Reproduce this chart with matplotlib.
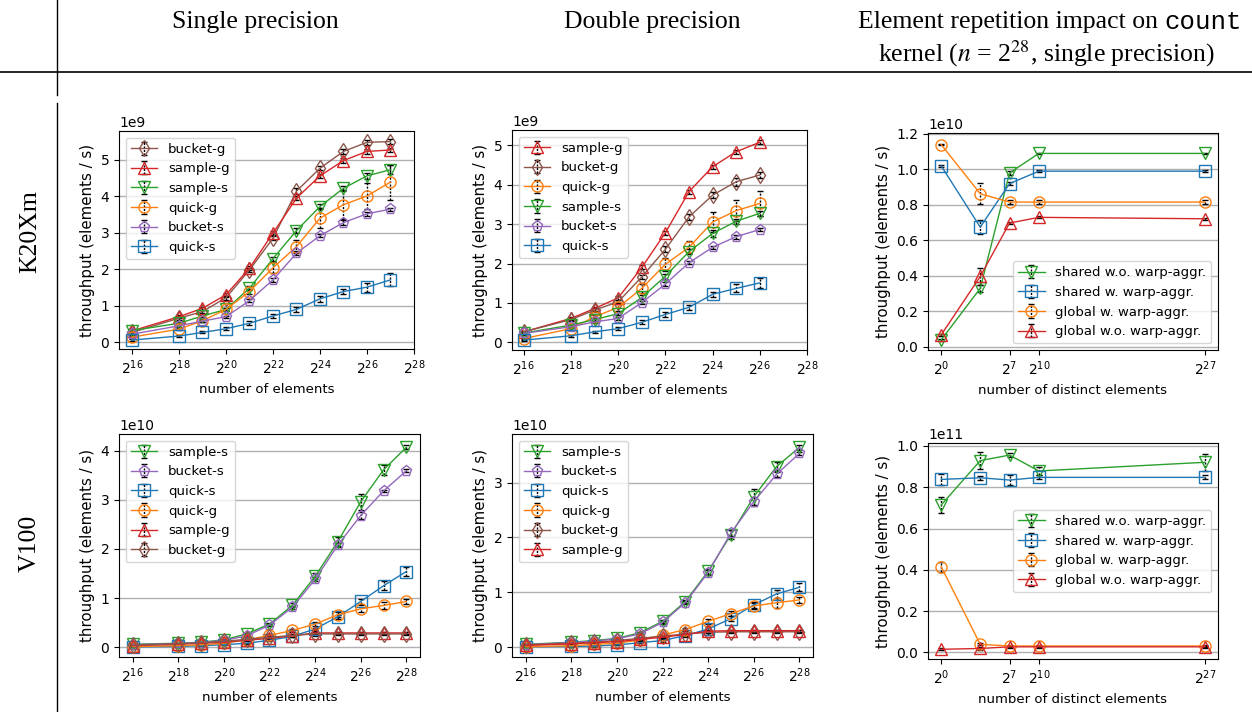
import numpy as np
import matplotlib
matplotlib.use("Agg")
import matplotlib.pyplot as plt
from matplotlib.ticker import FixedLocator, LogFormatterSciNotation, NullLocator
from matplotlib.lines import Line2D

# ---------------- data ----------------
exp_k20_single = [16, 18, 19, 20, 21, 22, 23, 24, 25, 26, 27]
exp_k20_double = [16, 18, 19, 20, 21, 22, 23, 24, 25, 26]
exp_v100 = [16, 18, 19, 20, 21, 22, 23, 24, 25, 26, 27, 28]
exp_distinct = [0, 4, 7, 10, 27]

# K20Xm single precision (x 1e9)
k20s_names = ["bucket-g", "sample-g", "sample-s", "quick-g", "bucket-s", "quick-s"]
k20s_vals = {
    "bucket-g": [0.27, 0.66, 0.84, 1.22, 1.98, 2.85, 4.14, 4.77, 5.23, 5.48, 5.50],
    "sample-g": [0.31, 0.70, 0.93, 1.30, 2.03, 2.99, 3.95, 4.56, 4.98, 5.23, 5.27],
    "sample-s": [0.32, 0.52, 0.72, 0.90, 1.48, 2.29, 3.06, 3.72, 4.22, 4.56, 4.73],
    "quick-g":  [0.14, 0.36, 0.59, 0.90, 1.39, 2.04, 2.62, 3.40, 3.77, 4.01, 4.39],
    "bucket-s": [0.22, 0.45, 0.58, 0.70, 1.14, 1.71, 2.44, 2.92, 3.28, 3.52, 3.65],
    "quick-s":  [0.06, 0.17, 0.27, 0.37, 0.52, 0.72, 0.90, 1.19, 1.39, 1.51, 1.71],
}
k20s_errs = {
    "bucket-g": [0.05, 0.05, 0.05, 0.05, 0.05, 0.06, 0.08, 0.06, 0.08, 0.07, 0.06],
    "sample-g": [0.03, 0.04, 0.04, 0.05, 0.06, 0.06, 0.06, 0.06, 0.06, 0.06, 0.06],
    "sample-s": [0.03, 0.03, 0.03, 0.04, 0.05, 0.06, 0.06, 0.06, 0.06, 0.08, 0.12],
    "quick-g":  [0.03, 0.03, 0.04, 0.05, 0.08, 0.15, 0.18, 0.28, 0.38, 0.36, 0.48],
    "bucket-s": [0.03, 0.03, 0.03, 0.03, 0.04, 0.05, 0.05, 0.04, 0.06, 0.05, 0.04],
    "quick-s":  [0.02, 0.03, 0.03, 0.04, 0.05, 0.06, 0.06, 0.08, 0.07, 0.12, 0.18],
}

# K20Xm double precision (x 1e9)
k20d_names = ["sample-g", "bucket-g", "quick-g", "sample-s", "bucket-s", "quick-s"]
k20d_vals = {
    "sample-g": [0.27, 0.61, 0.86, 1.13, 1.90, 2.78, 3.82, 4.45, 4.83, 5.07],
    "bucket-g": [0.27, 0.58, 0.82, 1.03, 1.66, 2.36, 3.18, 3.73, 4.07, 4.24],
    "quick-g":  [0.10, 0.35, 0.65, 0.89, 1.37, 1.98, 2.41, 3.05, 3.34, 3.52],
    "sample-s": [0.24, 0.44, 0.58, 0.73, 1.14, 1.68, 2.30, 2.76, 3.07, 3.27],
    "bucket-s": [0.23, 0.40, 0.52, 0.61, 1.01, 1.48, 2.02, 2.41, 2.68, 2.86],
    "quick-s":  [0.06, 0.17, 0.27, 0.35, 0.51, 0.71, 0.89, 1.22, 1.37, 1.51],
}
k20d_errs = {
    "sample-g": [0.03, 0.04, 0.05, 0.05, 0.05, 0.05, 0.05, 0.05, 0.05, 0.05],
    "bucket-g": [0.03, 0.04, 0.05, 0.05, 0.06, 0.08, 0.08, 0.08, 0.10, 0.08],
    "quick-g":  [0.03, 0.03, 0.04, 0.10, 0.12, 0.16, 0.15, 0.25, 0.27, 0.32],
    "sample-s": [0.03, 0.03, 0.03, 0.04, 0.05, 0.06, 0.06, 0.08, 0.06, 0.06],
    "bucket-s": [0.03, 0.03, 0.03, 0.03, 0.04, 0.04, 0.04, 0.04, 0.05, 0.04],
    "quick-s":  [0.02, 0.02, 0.03, 0.03, 0.05, 0.06, 0.06, 0.06, 0.10, 0.12],
}

# V100 single precision (x 1e10)
v100s_names = ["sample-s", "bucket-s", "quick-s", "quick-g", "sample-g", "bucket-g"]
v100s_vals = {
    "sample-s": [0.06, 0.08, 0.10, 0.15, 0.27, 0.47, 0.85, 1.44, 2.15, 2.96, 3.61, 4.07],
    "bucket-s": [0.05, 0.075, 0.095, 0.14, 0.23, 0.45, 0.81, 1.38, 2.08, 2.68, 3.18, 3.59],
    "quick-s":  [0.005, 0.015, 0.03, 0.05, 0.08, 0.14, 0.22, 0.37, 0.62, 0.93, 1.25, 1.54],
    "quick-g":  [0.01, 0.03, 0.05, 0.08, 0.15, 0.24, 0.34, 0.47, 0.66, 0.78, 0.85, 0.93],
    "sample-g": [0.03, 0.06, 0.08, 0.10, 0.14, 0.18, 0.23, 0.29, 0.29, 0.29, 0.29, 0.29],
    "bucket-g": [0.04, 0.07, 0.09, 0.12, 0.16, 0.20, 0.24, 0.27, 0.27, 0.27, 0.27, 0.27],
}
v100s_errs = {
    "sample-s": [0.01, 0.01, 0.01, 0.01, 0.02, 0.03, 0.04, 0.06, 0.10, 0.16, 0.10, 0.04],
    "bucket-s": [0.01, 0.01, 0.01, 0.01, 0.02, 0.02, 0.03, 0.04, 0.05, 0.08, 0.03, 0.03],
    "quick-s":  [0.01, 0.01, 0.01, 0.01, 0.01, 0.02, 0.02, 0.03, 0.04, 0.06, 0.09, 0.10],
    "quick-g":  [0.01, 0.01, 0.01, 0.01, 0.01, 0.02, 0.03, 0.04, 0.05, 0.07, 0.07, 0.06],
    "sample-g": [0.01, 0.01, 0.01, 0.01, 0.01, 0.02, 0.02, 0.03, 0.02, 0.02, 0.02, 0.02],
    "bucket-g": [0.01, 0.01, 0.01, 0.01, 0.01, 0.02, 0.02, 0.04, 0.03, 0.03, 0.03, 0.03],
}

# V100 double precision (x 1e10)
v100d_names = ["sample-s", "bucket-s", "quick-s", "quick-g", "bucket-g", "sample-g"]
v100d_vals = {
    "sample-s": [0.05, 0.09, 0.12, 0.16, 0.26, 0.47, 0.83, 1.38, 2.05, 2.74, 3.29, 3.64],
    "bucket-s": [0.04, 0.085, 0.11, 0.15, 0.24, 0.45, 0.81, 1.36, 2.08, 2.65, 3.15, 3.53],
    "quick-s":  [0.005, 0.012, 0.02, 0.04, 0.08, 0.12, 0.21, 0.33, 0.52, 0.77, 0.97, 1.09],
    "quick-g":  [0.006, 0.025, 0.05, 0.07, 0.13, 0.22, 0.32, 0.47, 0.61, 0.75, 0.81, 0.86],
    "bucket-g": [0.04, 0.07, 0.09, 0.12, 0.16, 0.20, 0.24, 0.27, 0.28, 0.28, 0.28, 0.28],
    "sample-g": [0.03, 0.06, 0.08, 0.10, 0.14, 0.18, 0.23, 0.29, 0.30, 0.30, 0.30, 0.30],
}
v100d_errs = {
    "sample-s": [0.01, 0.01, 0.01, 0.01, 0.02, 0.03, 0.03, 0.04, 0.08, 0.15, 0.08, 0.04],
    "bucket-s": [0.01, 0.01, 0.01, 0.01, 0.02, 0.02, 0.03, 0.04, 0.05, 0.08, 0.04, 0.03],
    "quick-s":  [0.01, 0.01, 0.01, 0.01, 0.01, 0.02, 0.02, 0.03, 0.04, 0.05, 0.07, 0.07],
    "quick-g":  [0.01, 0.01, 0.01, 0.01, 0.01, 0.02, 0.03, 0.04, 0.05, 0.06, 0.09, 0.05],
    "bucket-g": [0.01, 0.01, 0.01, 0.01, 0.01, 0.02, 0.02, 0.04, 0.03, 0.03, 0.03, 0.03],
    "sample-g": [0.01, 0.01, 0.01, 0.01, 0.01, 0.02, 0.02, 0.03, 0.02, 0.02, 0.02, 0.02],
}

# count kernel, K20Xm (x 1e10) and V100 (x 1e11)
cnt_names = ["shared w.o. warp-aggr.", "shared w. warp-aggr.",
             "global w. warp-aggr.", "global w.o. warp-aggr."]
cnt_k20_vals = {
    "shared w.o. warp-aggr.": [0.04, 0.33, 0.98, 1.09, 1.09],
    "shared w. warp-aggr.":   [1.02, 0.675, 0.92, 0.99, 0.99],
    "global w. warp-aggr.":   [1.14, 0.863, 0.816, 0.816, 0.816],
    "global w.o. warp-aggr.": [0.068, 0.397, 0.698, 0.73, 0.722],
}
cnt_k20_errs = {
    "shared w.o. warp-aggr.": [0.005, 0.02, 0.01, 0.005, 0.005],
    "shared w. warp-aggr.":   [0.005, 0.04, 0.01, 0.005, 0.005],
    "global w. warp-aggr.":   [0.005, 0.06, 0.01, 0.01, 0.01],
    "global w.o. warp-aggr.": [0.005, 0.05, 0.005, 0.005, 0.005],
}
cnt_v100_vals = {
    "shared w.o. warp-aggr.": [0.714, 0.929, 0.956, 0.879, 0.921],
    "shared w. warp-aggr.":   [0.838, 0.846, 0.835, 0.848, 0.848],
    "global w. warp-aggr.":   [0.415, 0.039, 0.031, 0.031, 0.031],
    "global w.o. warp-aggr.": [0.015, 0.019, 0.027, 0.027, 0.027],
}
cnt_v100_errs = {
    "shared w.o. warp-aggr.": [0.04, 0.04, 0.01, 0.02, 0.04],
    "shared w. warp-aggr.":   [0.025, 0.01, 0.025, 0.01, 0.01],
    "global w. warp-aggr.":   [0.025, 0.005, 0.005, 0.005, 0.005],
    "global w.o. warp-aggr.": [0.005, 0.005, 0.005, 0.005, 0.005],
}

styles = {
    "quick-s": ("C0", "s"), "quick-g": ("C1", "o"), "sample-s": ("C2", "v"),
    "sample-g": ("C3", "^"), "bucket-s": ("C4", "p"), "bucket-g": ("C5", "d"),
    "shared w.o. warp-aggr.": ("C2", "v"), "shared w. warp-aggr.": ("C0", "s"),
    "global w. warp-aggr.": ("C1", "o"), "global w.o. warp-aggr.": ("C3", "^"),
}

FS = 9.5
TFS = 10
plt.rcParams.update({"font.size": FS, "xtick.labelsize": TFS, "ytick.labelsize": TFS})

W, H = 1252, 712
fig = plt.figure(figsize=(W / 100, H / 100), dpi=100)


def rect(l, r, t, b):
    return [l / W, 1 - b / H, (r - l) / W, (b - t) / H]


def panel(r, exps, names, vals, errs, scale, xlim, ylim, xticks, xlabel, legloc):
    ax = fig.add_axes(rect(*r))
    x = [2.0 ** e for e in exps]
    for n in names:
        c, m = styles[n]
        cont = ax.errorbar(x, np.array(vals[n]) * scale, yerr=np.array(errs[n]) * scale,
                           color=c, marker=m, mfc="none", ms=8, mew=1, lw=1,
                           ecolor="k", elinewidth=1, capsize=2.5, label=n)
        for bl in cont[2]:
            bl.set_linestyle((0, (1.5, 1)))
    ax.set_xscale("log", base=2)
    ax.xaxis.set_major_locator(FixedLocator([2.0 ** e for e in xticks]))
    ax.xaxis.set_major_formatter(LogFormatterSciNotation(base=2))
    ax.xaxis.set_minor_locator(NullLocator())
    ax.set_xlim(2.0 ** xlim[0], 2.0 ** xlim[1])
    ax.set_ylim(ylim[0] * scale, ylim[1] * scale)
    ax.yaxis.grid(True, color="#b0b0b0", lw=1)
    ax.set_axisbelow(True)
    ax.yaxis.get_offset_text().set_fontsize(TFS)
    ax.set_xlabel(xlabel, fontsize=FS)
    ax.set_ylabel("throughput (elements / s)", fontsize=10.8)
    ax.legend(loc=legloc, fontsize=FS)
    return ax


xt = [16, 18, 20, 22, 24, 26, 28]
panel((119, 414, 131, 349), exp_k20_single, k20s_names, k20s_vals, k20s_errs, 1e9,
      (15.45, 28), (-0.185, 5.79), xt, "number of elements", "upper left")
panel((512, 807, 130, 350), exp_k20_double, k20d_names, k20d_vals, k20d_errs, 1e9,
      (15.5, 28), (-0.19, 5.38), xt, "number of elements", "upper left")
panel((928, 1218, 133, 350), exp_distinct, cnt_names, cnt_k20_vals, cnt_k20_errs, 1e10,
      (-1.35, 28.35), (-0.017, 1.205), [0, 7, 10, 27], "number of distinct elements", "lower right")
panel((119, 420, 434, 657), exp_v100, v100s_names, v100s_vals, v100s_errs, 1e10,
      (15.4, 28.6), (-0.2, 4.34), xt, "number of elements", "upper left")
panel((512, 813, 434, 657), exp_v100, v100d_names, v100d_vals, v100d_errs, 1e10,
      (15.4, 28.6), (-0.18, 3.885), xt, "number of elements", "upper left")
panel((928, 1218, 443, 659), exp_distinct, cnt_names, cnt_v100_vals, cnt_v100_errs, 1e11,
      (-1.35, 28.35), (-0.032, 1.0145), [0, 7, 10, 27], "number of distinct elements", "center right")

# ---------------- table decoration ----------------
serif = "Liberation Serif"
HFS = 18.5


def fx(px):
    return px / W


def fy(py):
    return 1 - py / H


fig.add_artist(Line2D([0, 1], [fy(72), fy(72)], color="k", lw=1.2))
fig.add_artist(Line2D([fx(57), fx(57)], [fy(0), fy(95)], color="k", lw=1.0))
fig.add_artist(Line2D([fx(57), fx(57)], [fy(103), fy(712)], color="k", lw=1.0))

fig.text(fx(255), fy(22), "Single precision", family=serif, fontsize=HFS, ha="center", va="center")
fig.text(fx(652), fy(22), "Double precision", family=serif, fontsize=HFS, ha="center", va="center")
fig.text(fx(30), fy(232), "K20Xm", family=serif, fontsize=HFS, ha="center", va="center", rotation=90)
fig.text(fx(30), fy(543), "V100", family=serif, fontsize=HFS, ha="center", va="center", rotation=90)

renderer = fig.canvas.get_renderer()
t1 = fig.text(0, fy(22), "Element repetition impact on ", family=serif, fontsize=HFS,
              ha="left", va="center")
t2 = fig.text(0, fy(22), "count", family="Liberation Mono", fontsize=HFS, ha="left", va="center")
w1 = t1.get_window_extent(renderer).width
w2 = t2.get_window_extent(renderer).width
x0 = 1050 - (w1 + w2) / 2
t1.set_x(fx(x0))
t2.set_x(fx(x0 + w1))
fig.text(fx(1046), fy(54), r"kernel ($n$ = 2$^{28}$, single precision)", family=serif,
         fontsize=HFS, ha="center", va="center", math_fontfamily="stix")

fig.savefig("out.png", dpi=100)
